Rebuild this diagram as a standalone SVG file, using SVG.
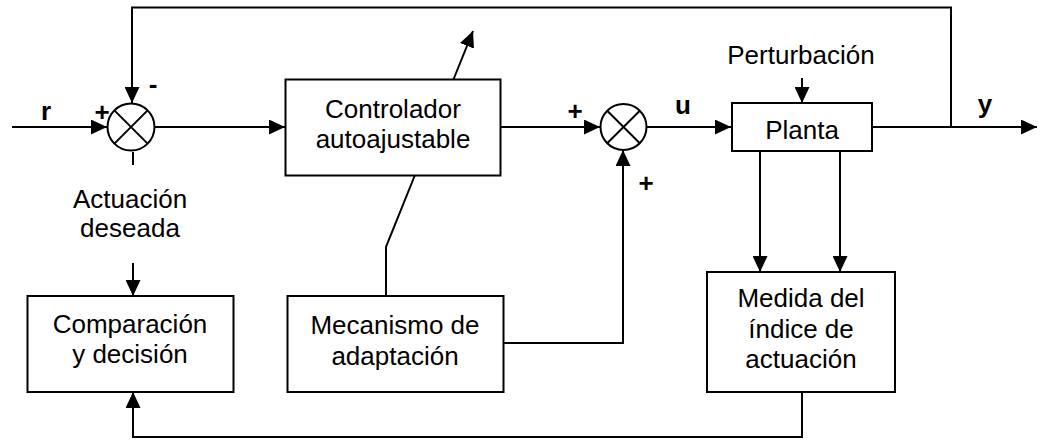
<svg xmlns="http://www.w3.org/2000/svg" width="1040" height="441" viewBox="0 0 1040 441">
<style>
.ln{fill:none;stroke:#000;stroke-width:2}
.box{fill:#fff;stroke:#000;stroke-width:2}
.t{font-family:"Liberation Sans",Arial,sans-serif;font-size:26px;fill:#000;text-anchor:middle}
.b{font-family:"Liberation Sans",Arial,sans-serif;font-size:26px;font-weight:bold;fill:#000;text-anchor:middle}
</style>
<defs>
<marker id="ah" markerUnits="userSpaceOnUse" markerWidth="16" markerHeight="15" refX="16" refY="7.5" orient="auto">
<path d="M0,0 L16,7.5 L0,15 z" fill="#000"/>
</marker>
</defs>
<rect width="1040" height="441" fill="#fff"/>
<g id="connectors">
<path class="ln" d="M12,127 L107,127" marker-end="url(#ah)"/>
<path class="ln" d="M155,127 L285,127" marker-end="url(#ah)"/>
<path class="ln" d="M501,127 L600,127" marker-end="url(#ah)"/>
<path class="ln" d="M647,127 L731,127" marker-end="url(#ah)"/>
<path class="ln" d="M872,127 L1037,127" marker-end="url(#ah)"/>
<path class="ln" d="M951,127 L951,7.5 L132,7.5 L132,103" marker-end="url(#ah)"/>
<path class="ln" d="M802,78 L802,103" marker-end="url(#ah)"/>
<path class="ln" d="M760,151 L760,272" marker-end="url(#ah)"/>
<path class="ln" d="M840,151 L840,272" marker-end="url(#ah)"/>
<path class="ln" d="M802,392 L802,437 L133,437 L133,392" marker-end="url(#ah)"/>
<path class="ln" d="M133,263 L133,296" marker-end="url(#ah)"/>
<path class="ln" d="M503,343 L623,343 L623,150" marker-end="url(#ah)"/>
<path class="ln" d="M386,296 L386,247 L473,31" marker-end="url(#ah)"/>
<line class="ln" x1="133" y1="152" x2="133" y2="165"/>
</g>
<g id="sum1">
<circle class="box" cx="131" cy="127" r="23.5"/>
<path class="ln" d="M114.4,110.4 L147.6,143.6 M147.6,110.4 L114.4,143.6"/>
</g>
<g id="sum2">
<circle class="box" cx="623.5" cy="127" r="23"/>
<path class="ln" d="M607.2,110.7 L639.8,143.3 M639.8,110.7 L607.2,143.3"/>
</g>
<g id="controlador">
<rect class="box" x="285.5" y="79.5" width="215" height="96"/>
<text class="t" x="393" y="118">Controlador</text>
<text class="t" x="393" y="148">autoajustable</text>
</g>
<g id="planta">
<rect class="box" x="732" y="103" width="140" height="48"/>
<text class="t" x="802" y="139">Planta</text>
</g>
<g id="comparacion">
<rect class="box" x="27.5" y="296" width="206" height="96"/>
<text class="t" x="130" y="333">Comparación</text>
<text class="t" x="130" y="363">y decisión</text>
</g>
<g id="mecanismo">
<rect class="box" x="287.5" y="296" width="216" height="96"/>
<text class="t" x="395" y="334">Mecanismo de</text>
<text class="t" x="395" y="365">adaptación</text>
</g>
<g id="medida">
<rect class="box" x="707" y="272" width="188" height="120"/>
<text class="t" x="801" y="307">Medida del</text>
<text class="t" x="801" y="338">índice de</text>
<text class="t" x="801" y="368">actuación</text>
</g>
<g id="labels">
<text class="t" x="801" y="64">Perturbación</text>
<text class="t" x="130" y="208">Actuación</text>
<text class="t" x="130" y="237">deseada</text>
<text class="b" x="46" y="120">r</text>
<text class="b" x="102" y="121">+</text>
<text class="b" x="153" y="93">-</text>
<text class="b" x="575" y="120">+</text>
<text class="b" x="646" y="192">+</text>
<text class="b" x="683" y="114">u</text>
<text class="b" x="985" y="113">y</text>
</g>
</svg>
